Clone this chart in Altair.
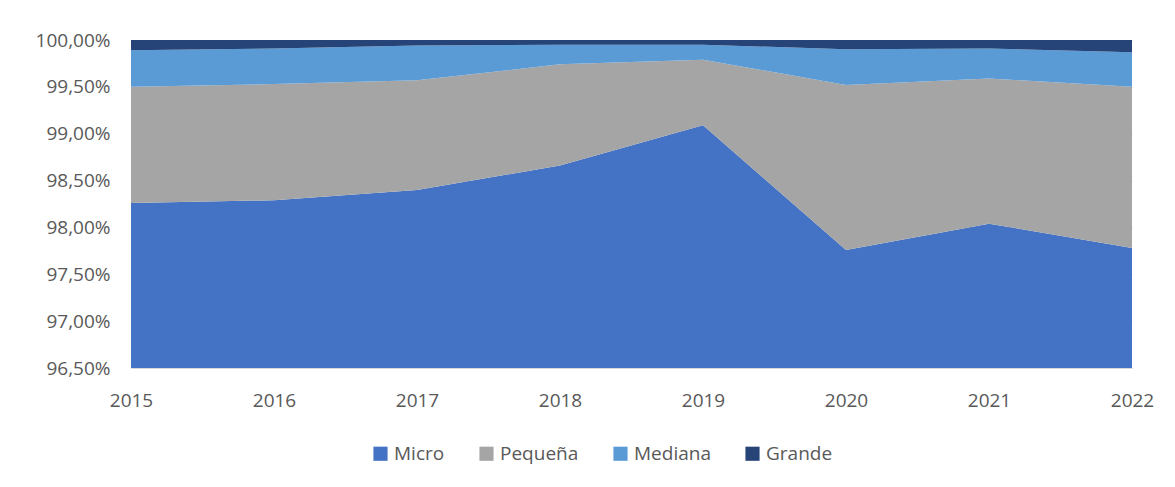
import altair as alt
import pandas as pd

years = [2015, 2016, 2017, 2018, 2019, 2020, 2021, 2022]
micro = [98.26, 98.29, 98.40, 98.66, 99.09, 97.76, 98.04, 97.78]
pequena = [1.24, 1.24, 1.17, 1.08, 0.70, 1.76, 1.55, 1.72]
mediana = [0.39, 0.38, 0.37, 0.21, 0.16, 0.38, 0.32, 0.37]
grande = [0.11, 0.09, 0.06, 0.05, 0.05, 0.10, 0.09, 0.13]

series = ["Micro", "Pequeña", "Mediana", "Grande"]
colors = ["#4472C4", "#A5A5A5", "#5B9BD5", "#264478"]

rows = []
for i, name in enumerate(series):
    vals = [micro, pequena, mediana, grande][i]
    for y, v in zip(years, vals):
        rows.append({"year": y, "serie": name, "value": v / 100.0, "idx": i})
df = pd.DataFrame(rows)

FONT = "Open Sans"
chart = (
    alt.Chart(df)
    .mark_area(clip=True, opacity=1)
    .encode(
        x=alt.X(
            "year:Q",
            scale=alt.Scale(domain=[2015, 2022], nice=False, zero=False),
            axis=alt.Axis(
                values=years,
                format="d",
                title=None,
                ticks=False,
                grid=False,
                domainColor="#D9D9D9",
                labelColor="#595959",
                labelFontSize=19,
                labelFont=FONT,
                labelPadding=23,
                labelFlush=False,
                labelBound=False,
                labelOverlap=False,
            ),
        ),
        y=alt.Y(
            "value:Q",
            stack="zero",
            scale=alt.Scale(domain=[0.965, 1.0], nice=False, zero=False),
            axis=alt.Axis(
                values=[0.965, 0.97, 0.975, 0.98, 0.985, 0.99, 0.995, 1.0],
                format=".2%",
                labelExpr="replace(datum.label, '.', ',')",
                title=None,
                ticks=False,
                domain=False,
                grid=True,
                gridColor="#D9D9D9",
                labelColor="#595959",
                labelFontSize=19,
                labelFont=FONT,
                labelPadding=21,
                labelFlush=False,
                labelOverlap=False,
            ),
        ),
        color=alt.Color(
            "serie:N",
            scale=alt.Scale(domain=series, range=colors),
            legend=alt.Legend(
                title=None,
                orient="none",
                legendX=240,
                legendY=404,
                direction="horizontal",
                symbolType="square",
                symbolSize=200,
                symbolStrokeWidth=0,
                labelFontSize=19,
                labelFont=FONT,
                labelColor="#595959",
                columnPadding=32,
            ),
        ),
        order=alt.Order("idx:Q", sort="ascending"),
    )
    .properties(
        width=1001,
        height=328,
        padding={"left": 123, "top": 32, "right": 35, "bottom": 119},
        autosize=alt.AutoSizeParams(type="none"),
    )
    .configure_view(stroke=None)
)

chart.save("out.html", embed_options={"renderer": "svg", "actions": False})
